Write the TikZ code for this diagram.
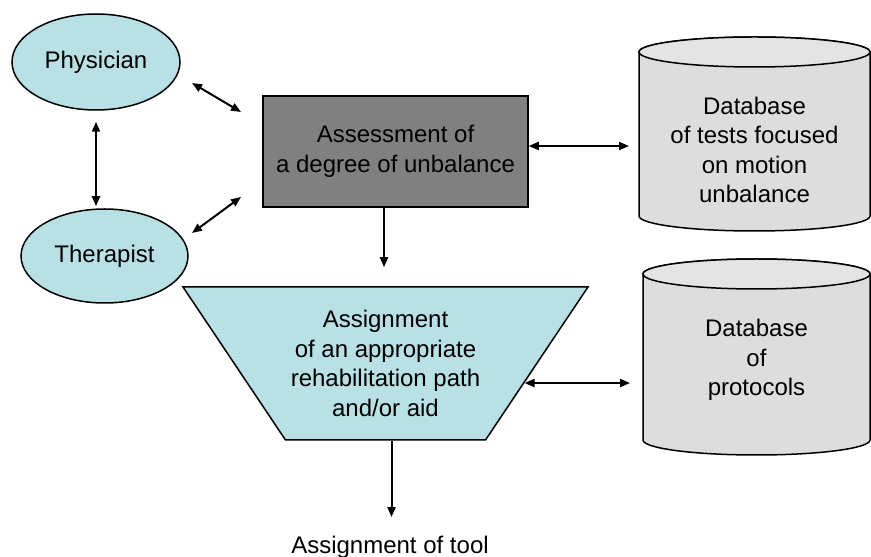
\documentclass[tikz,border=0pt]{standalone}
\usepackage{fontspec}
\setmainfont{Liberation Sans}
\usetikzlibrary{shapes.geometric,arrows.meta}

\definecolor{paleblue}{RGB}{185,224,228}
\definecolor{darkbox}{RGB}{128,128,128}
\definecolor{dbgray}{RGB}{221,221,221}
\definecolor{dbtop}{RGB}{228,228,228}

\begin{document}
\begin{tikzpicture}[x=1pt, y=1pt, line width=1.5pt,
  every node/.style={font=\fontsize{24}{29.5}\selectfont, align=center},
  actor/.style={ellipse, draw, fill=paleblue, inner sep=0pt},
  assessbox/.style={rectangle, draw, fill=darkbox, minimum width=265pt, minimum height=111pt},
  assignbox/.style={trapezium, draw, fill=paleblue, trapezium stretches=true,
    trapezium left angle=48.3, trapezium right angle=48.3, shape border rotate=180,
    minimum width=405pt, minimum height=153pt},
  dbbody/.style={rectangle, inner sep=0pt, outer sep=0pt},
  link/.style={line width=2pt, {Triangle[length=10pt,width=8pt]}-{Triangle[length=10pt,width=8pt]}},
  flow/.style={line width=2pt, -{Triangle[length=10pt,width=8pt]}}]

  \useasboundingbox (0,0) rectangle (871,557);

  \node[actor, minimum width=168pt, minimum height=96pt] (phys) at (96,495) {Physician};
  \node[actor, minimum width=167pt, minimum height=94pt] (ther) at (104.5,301) {Therapist};
  \node[assessbox] (assess) at (395.5,405.5) {Assessment of\\a degree of unbalance};
  \node[assignbox] (assign) at (385.5,193.5) {Assignment\\of an appropriate\\rehabilitation path\\and/or aid};
  \node[inner sep=0pt] (tool) at (390,10) {Assignment of tool};

  \node[dbbody, minimum width=231pt, minimum height=164pt] (db1) at (754.5,423) {};
  \node[dbbody, minimum width=227pt, minimum height=166pt] (db2) at (756.5,200) {};

  \foreach \db/\rx in {db1/115.5, db2/113.5} {
    \draw[fill=dbgray] (\db.north west) -- (\db.south west)
      arc[start angle=180, end angle=360, x radius=\rx, y radius=15] -- (\db.north east)
      arc[start angle=0, end angle=180, x radius=\rx, y radius=15] -- cycle;
    \draw[fill=dbtop] (\db.north) ellipse[x radius=\rx, y radius=15];
  }

  \node (db1txt) at (754.5,407) {Database\\of tests focused\\on motion\\unbalance};
  \node (db2txt) at (756.5,197) {Database\\of\\protocols};

  \coordinate (p1) at (192,474);
  \coordinate (p2) at (241,445);
  \coordinate (t1) at (192,324);
  \coordinate (t2) at (241,360);

  \draw[link, shorten <=11pt, shorten >=2pt] (phys.south) -- (phys.south |- ther.north);
  \draw[link] (p1) -- (p2);
  \draw[link] (t1) -- (t2);
  \draw[link, shorten >=10pt] ([yshift=5.5pt]assess.east) -- ([yshift=5.5pt]assess.east -| db1.west);
  \draw[flow, shorten >=19pt] ([xshift=-11.5pt]assess.south) -- ([xshift=-11.5pt]assess.south |- assign.north);
  \draw[link, shorten >=13pt] (assign.-8) -- (assign.-8 -| db2.west);
  \draw[flow, shorten >=18pt] ([xshift=6pt]assign.south) -- ([xshift=6pt]assign.south |- tool.north);
\end{tikzpicture}
\end{document}
